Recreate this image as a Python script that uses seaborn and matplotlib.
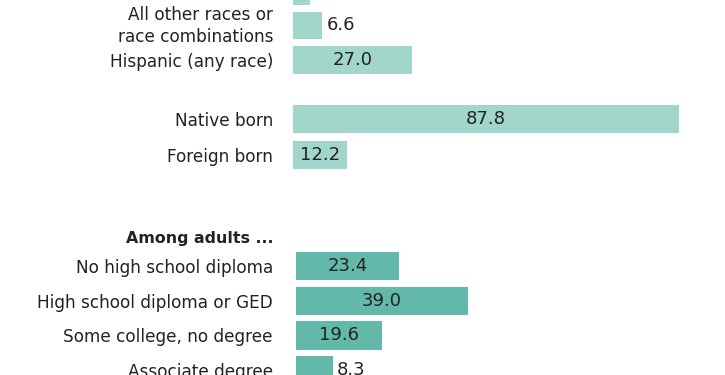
import matplotlib
matplotlib.use("Agg")
import matplotlib.pyplot as plt
import matplotlib.transforms as mtransforms
import seaborn as sns

# race / ethnicity (top row is cut off in the original crop)
race_labels = ["Asian", "All other races or\nrace combinations", "Hispanic (any race)"]
race_values = [3.9, 6.6, 27.0]

# nativity
nativity_labels = ["Native born", "Foreign born"]
nativity_values = [87.8, 12.2]

# education among adults
edu_labels = ["No high school diploma", "High school diploma or GED",
              "Some college, no degree", "Associate degree"]
edu_values = [23.4, 39.0, 19.6, 8.3]

light = "#a3d6ca"
dark = "#63b9a9"
txt = "#222222"
fs = 12.2      # category labels
vfs = 13       # value labels

sns.set_theme(style="white")
plt.rcParams['font.family'] = ['DejaVu Sans']

W, H = 725, 375
fig = plt.figure(figsize=(W / 100, H / 100), dpi=100)


def make_ax(left_px, top_px, bottom_px, xmax):
    # axes in pixel terms, measured from top-left
    return fig.add_axes([left_px / W, 1 - bottom_px / H,
                         xmax * 4.4 / W, (bottom_px - top_px) / H])


def draw(ax, labels, values, color, width, pad):
    sns.barplot(x=values, y=labels, ax=ax, color=color, width=width,
                orient="h", linewidth=0, saturation=1)
    ax.set_xlim(0, 90)
    for sp in ax.spines.values():
        sp.set_visible(False)
    ax.set_xticks([])
    ax.set_xlabel("")
    ax.set_ylabel("")
    ax.tick_params(axis="y", length=0, pad=pad, labelsize=fs, labelcolor=txt)
    for t in ax.get_yticklabels():
        if "\n" in t.get_text():
            t.set_linespacing(1.25)
            # nudge the two-line label up a little
            t.set_transform(t.get_transform() +
                            mtransforms.ScaledTranslation(0, 3 / 100, fig.dpi_scale_trans))
    for i, v in enumerate(values):
        if v < 10:
            ax.text(v + 1.0, i, f"{v:.1f}", va="center", ha="left",
                    fontsize=vfs, color=txt)
        else:
            ax.text(v / 2, i, f"{v:.1f}", va="center", ha="center",
                    fontsize=vfs, color=txt)


ax1 = make_ax(293, -25.9, 76.8, 90)
draw(ax1, race_labels, race_values, light, 0.81, 14.4)

ax2 = make_ax(293, 101, 173, 90)
draw(ax2, nativity_labels, nativity_values, light, 0.78, 14.4)

ax3 = make_ax(296, 249, 387.4, 90)
draw(ax3, edu_labels, edu_values, dark, 0.81, 16.6)

fig.text(273 / W, 1 - 238 / H, "Among adults ...", ha="right", va="center",
         fontsize=11.4, fontweight="bold", color=txt)

fig.savefig("out.png", dpi=100)
